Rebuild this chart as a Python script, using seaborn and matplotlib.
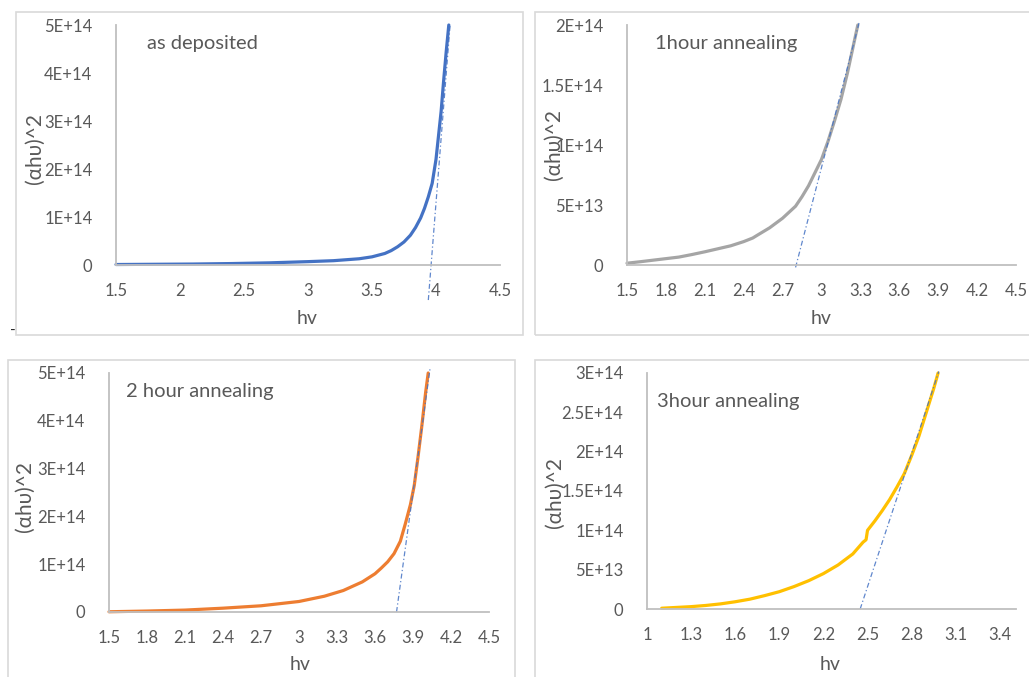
import matplotlib
matplotlib.use("Agg")
import matplotlib.pyplot as plt
from matplotlib.patches import Rectangle
import seaborn as sns
import pandas as pd

# ---------------- data (y in units of 1E+14) ----------------
# as deposited
hv_dep = [1.5, 1.8, 2.1, 2.4, 2.7, 3.0, 3.2, 3.4, 3.5, 3.6, 3.65, 3.7, 3.75, 3.8, 3.84, 3.88,
          3.91, 3.94, 3.97, 4.0, 4.02, 4.04, 4.06, 4.08, 4.1]
ahv_dep = [0.01, 0.015, 0.02, 0.03, 0.045, 0.07, 0.09, 0.13, 0.17, 0.24, 0.30, 0.38, 0.48, 0.62, 0.78, 0.98,
           1.18, 1.42, 1.70, 2.2, 2.7, 3.2, 3.85, 4.45, 5.0]
tan_dep_x = [3.94, 4.11]
tan_dep_y = [-0.73, 5.0]

# 1 hour annealing
hv_1h = [1.5, 1.6, 1.7, 1.8, 1.9, 2.0, 2.1, 2.2, 2.3, 2.4, 2.47, 2.5, 2.6, 2.7, 2.75, 2.8, 2.85,
         2.9, 2.95, 3.0, 3.05, 3.1, 3.15, 3.2, 3.25, 3.28]
ahv_1h = [0.015, 0.027, 0.04, 0.053, 0.066, 0.087, 0.11, 0.135, 0.16, 0.195, 0.225, 0.245, 0.31, 0.39, 0.44,
          0.49, 0.57, 0.66, 0.77, 0.88, 1.03, 1.2, 1.38, 1.6, 1.85, 2.0]
tan_1h_x = [2.80, 3.29]
tan_1h_y = [-0.02, 2.02]

# 2 hour annealing
hv_2h = [1.5, 1.8, 2.1, 2.4, 2.7, 3.0, 3.2, 3.35, 3.5, 3.6, 3.65, 3.7, 3.75, 3.8, 3.84, 3.88,
         3.91, 3.94, 3.97, 4.0, 4.02]
ahv_2h = [0.005, 0.02, 0.04, 0.08, 0.13, 0.22, 0.33, 0.45, 0.63, 0.8, 0.92, 1.05, 1.22, 1.48, 1.85, 2.25,
          2.65, 3.25, 3.9, 4.6, 5.0]
tan_2h_x = [3.77, 4.035]
tan_2h_y = [0.0, 5.1]

# 3 hour annealing
hv_3h = [1.1, 1.2, 1.3, 1.4, 1.5, 1.6, 1.7, 1.8, 1.9, 2.0, 2.1, 2.2, 2.3, 2.4, 2.47, 2.49, 2.5,
         2.55, 2.6, 2.65, 2.7, 2.75, 2.8, 2.85, 2.9, 2.95, 2.98]
ahv_3h = [0.01, 0.02, 0.03, 0.045, 0.065, 0.092, 0.125, 0.17, 0.22, 0.285, 0.36, 0.45, 0.56, 0.70, 0.85,
          0.88, 1.0, 1.12, 1.25, 1.39, 1.55, 1.72, 1.95, 2.2, 2.5, 2.8, 3.0]
tan_3h_x = [2.45, 2.985]
tan_3h_y = [0.0, 3.02]

titles = ["as deposited", "1hour annealing", "2 hour annealing", "3hour annealing"]
colors = ["#4472C4", "#A5A5A5", "#ED7D31", "#FFC000"]

xticks_dep = [1.5, 2, 2.5, 3, 3.5, 4, 4.5]
xticklabels_dep = ["1.5", "2", "2.5", "3", "3.5", "4", "4.5"]
xticks_03 = [1.5, 1.8, 2.1, 2.4, 2.7, 3.0, 3.3, 3.6, 3.9, 4.2, 4.5]
xticklabels_03 = ["1.5", "1.8", "2.1", "2.4", "2.7", "3", "3.3", "3.6", "3.9", "4.2", "4.5"]
xticks_3h = [1.0, 1.3, 1.6, 1.9, 2.2, 2.5, 2.8, 3.1, 3.4]
xticklabels_3h = ["1", "1.3", "1.6", "1.9", "2.2", "2.5", "2.8", "3.1", "3.4"]

yticks_5 = [0, 1, 2, 3, 4, 5]
yticklabels_5 = ["0", "1E+14", "2E+14", "3E+14", "4E+14", "5E+14"]
yticks_2 = [0, 0.5, 1.0, 1.5, 2.0]
yticklabels_2 = ["0", "5E+13", "1E+14", "1.5E+14", "2E+14"]
yticks_3 = [0, 0.5, 1.0, 1.5, 2.0, 2.5, 3.0]
yticklabels_3 = ["0", "5E+13", "1E+14", "1.5E+14", "2E+14", "2.5E+14", "3E+14"]

# ---------------- styling ----------------
sns.set_theme(style="white")
plt.rcParams["font.family"] = ["Lato", "DejaVu Sans"]

W, H = 1029, 677
fig = plt.figure(figsize=(W / 100, H / 100), dpi=100)
fig.patch.set_facecolor("white")

TXT = "#595959"
AX = "#BFBFBF"

def rect(x0, y0, x1, y1):
    return [x0 / W, 1 - y1 / H, (x1 - x0) / W, (y1 - y0) / H]

# chart frames
for (x0, y0, x1, y1) in [(16, 12, 523, 335), (535, 12, 1040, 335), (8, 360, 515, 690), (535, 360, 1040, 690)]:
    fig.patches.append(Rectangle((x0 / W, 1 - y1 / H), (x1 - x0) / W, (y1 - y0) / H,
                                 transform=fig.transFigure, fill=False, edgecolor="#D9D9D9", lw=1.2))

panels = [
    dict(r=rect(116, 25, 500, 265), hv=hv_dep, v=ahv_dep, tx=tan_dep_x, ty=tan_dep_y,
         xlim=(1.5, 4.5), xt=xticks_dep, xtl=xticklabels_dep, ylim=(0, 5), yt=yticks_5, ytl=yticklabels_5,
         title_xy=(147, 43), ylab_xy=(35, 148), xlab_xy=(307, 318)),
    dict(r=rect(627, 25, 1016, 265), hv=hv_1h, v=ahv_1h, tx=tan_1h_x, ty=tan_1h_y,
         xlim=(1.5, 4.5), xt=xticks_03, xtl=xticklabels_03, ylim=(0, 2), yt=yticks_2, ytl=yticklabels_2,
         title_xy=(655, 43), ylab_xy=(554, 145), xlab_xy=(821, 318)),
    dict(r=rect(109, 373, 489, 612), hv=hv_2h, v=ahv_2h, tx=tan_2h_x, ty=tan_2h_y,
         xlim=(1.5, 4.5), xt=xticks_03, xtl=xticklabels_03, ylim=(0, 5), yt=yticks_5, ytl=yticklabels_5,
         title_xy=(126, 392), ylab_xy=(25, 497), xlab_xy=(300, 664)),
    dict(r=rect(647, 373, 1016, 609), hv=hv_3h, v=ahv_3h, tx=tan_3h_x, ty=tan_3h_y,
         xlim=(1.0, 3.51), xt=xticks_3h, xtl=xticklabels_3h, ylim=(0, 3), yt=yticks_3, ytl=yticklabels_3,
         title_xy=(657, 402), ylab_xy=(555, 493), xlab_xy=(830, 664)),
]

for i, p in enumerate(panels):
    ax = fig.add_axes(p["r"])
    ax.set_facecolor("none")
    df = pd.DataFrame({"hv": p["hv"], "val": p["v"]})
    sns.lineplot(data=df, x="hv", y="val", ax=ax, color=colors[i], lw=2.3, sort=False,
                 clip_on=False, solid_capstyle="round", solid_joinstyle="round")
    tdf = pd.DataFrame({"hv": p["tx"], "val": p["ty"]})
    sns.lineplot(data=tdf, x="hv", y="val", ax=ax, color="#4472C4", lw=0.9, sort=False,
                 linestyle=(0, (4, 2, 1, 2)), clip_on=False, alpha=0.85)
    ax.set_xlim(*p["xlim"])
    ax.set_ylim(*p["ylim"])
    ax.set_xticks(p["xt"])
    ax.set_xticklabels(p["xtl"])
    ax.set_yticks(p["yt"])
    ax.set_yticklabels(p["ytl"])
    ax.tick_params(axis="both", length=0, labelsize=12, labelcolor=TXT)
    ax.tick_params(axis="x", pad=13)
    ax.tick_params(axis="y", pad=17)
    for s in ["top", "right"]:
        ax.spines[s].set_visible(False)
    for s in ["left", "bottom"]:
        ax.spines[s].set_color(AX)
        ax.spines[s].set_linewidth(1.3)
    ax.set_xlabel("")
    ax.set_ylabel("")
    ax.grid(False)
    tx, ty = p["title_xy"]
    fig.text(tx / W, 1 - ty / H, titles[i], fontsize=14.5, color=TXT, ha="left", va="center")
    lx, ly = p["ylab_xy"]
    fig.text(lx / W, 1 - ly / H, "(αhυ)^2", fontsize=15, color=TXT, ha="center", va="center", rotation=90)
    hx, hy = p["xlab_xy"]
    fig.text(hx / W, 1 - hy / H, "hv", fontsize=14, color=TXT, ha="center", va="center")

fig.text(13 / W, 1 - 331 / H, "-", fontsize=11, color="#222222", ha="center", va="center")

fig.savefig("out.png", dpi=100, facecolor="white")
